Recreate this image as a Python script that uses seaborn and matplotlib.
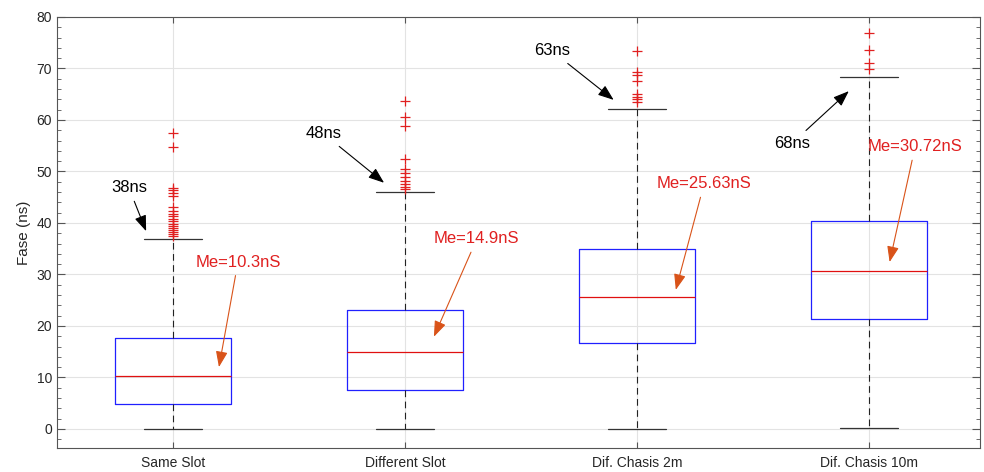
import numpy as np
import pandas as pd
import seaborn as sns
import matplotlib
matplotlib.use("Agg")
import matplotlib.pyplot as plt
from matplotlib.ticker import MultipleLocator

# Categorias y estadisticas (ns)
grupos = ["Same Slot", "Different Slot", "Dif. Chasis 2m", "Dif. Chasis 10m"]
q1 = [4.8, 7.6, 16.6, 21.3]
mediana = [10.3, 14.9, 25.63, 30.72]
q3 = [17.6, 23.1, 34.9, 40.4]
bigote_bajo = [0.0, 0.0, 0.0, 0.1]
bigote_alto = [36.8, 46.0, 62.2, 68.3]
atipicos = [
    [57.5, 54.7, 46.8, 46.3, 45.8, 45.2, 43.0, 42.4, 41.8, 41.3, 40.8,
     40.3, 39.8, 39.5, 39.0, 38.6, 38.2, 37.8, 37.5],
    [63.7, 60.6, 58.8, 52.4, 50.4, 49.7, 49.0, 48.2, 47.5, 47.0, 46.6],
    [73.4, 69.4, 68.8, 67.6, 65.0, 64.5, 64.0, 63.5],
    [76.8, 73.6, 71.1, 69.9],
]

# Textos de las anotaciones
etiquetas_max = ["38ns", "48ns", "63ns", "68ns"]
etiquetas_me = ["Me=10.3nS", "Me=14.9nS", "Me=25.63nS", "Me=30.72nS"]

# seaborn calcula las cajas a partir de datos: se arma una muestra
# que reproduce exactamente los cuartiles, bigotes y atipicos leidos
filas = []
for i, g in enumerate(grupos):
    valores = ([bigote_bajo[i]] + [q1[i]] * 100 + [mediana[i]] * 100
               + [q3[i]] * 100 + [bigote_alto[i]] + atipicos[i])
    for v in valores:
        filas.append({"grupo": g, "fase": v})
df = pd.DataFrame(filas)

sns.set_theme(style="whitegrid", rc={
    "grid.color": "#e3e3e3",
    "grid.linewidth": 0.8,
    "axes.edgecolor": "#555555",
    "axes.linewidth": 0.8,
    "xtick.direction": "in",
    "ytick.direction": "in",
})
plt.rcParams["font.family"] = ["Liberation Sans", "DejaVu Sans"]

fig = plt.figure(figsize=(9.84, 4.72), dpi=100)
ax = fig.add_axes([0.058, 0.051, 0.938, 0.913])

sns.boxplot(data=df, x="grupo", y="fase", order=grupos, ax=ax,
            fill=False, width=0.5, whis=1.5, color="blue",
            boxprops=dict(color="#2020ff", linewidth=0.9),
            medianprops=dict(color="#e01010", linewidth=0.9),
            whiskerprops=dict(color="#222222", linestyle=(0, (6, 4)), linewidth=0.8),
            capprops=dict(color="#333333", linewidth=0.9),
            flierprops=dict(marker="+", markeredgecolor="#e02020",
                            markersize=7, markeredgewidth=0.9),
            capwidths=0.25)

ax.set_xlim(-0.5, 3.48)
ax.set_ylim(-3.7, 80)
ax.yaxis.set_major_locator(MultipleLocator(10))
ax.yaxis.set_minor_locator(MultipleLocator(2))
ax.tick_params(axis="both", which="both", direction="in",
               top=True, bottom=True, left=True, right=True,
               colors="#555555", labelcolor="#262626", labelsize=10)
ax.tick_params(axis="y", which="major", length=6, width=0.8)
ax.tick_params(axis="y", which="minor", length=3, width=0.6)
ax.tick_params(axis="x", which="major", length=4, width=0.8, pad=6)
ax.grid(True, which="major", axis="both")
ax.set_xlabel("")
ax.set_ylabel("Fase (ns)", fontsize=11, color="#262626")
for s in ax.spines.values():
    s.set_visible(True)
    s.set_color("#555555")

# Anotaciones negras (maximo del bigote), x relativa a cada categoria
flecha_max_dx = [-0.116, -0.09, -0.10, -0.086]
flecha_max_y = [38.4, 47.8, 63.9, 65.6]
texto_max_dx = [-0.19, -0.35, -0.366, -0.33]
texto_max_y = [46.8, 57.3, 73.4, 55.5]
for i in range(4):
    ax.annotate(etiquetas_max[i], xy=(i + flecha_max_dx[i], flecha_max_y[i]),
                xytext=(i + texto_max_dx[i], texto_max_y[i]),
                ha="center", va="center", fontsize=12, color="black",
                arrowprops=dict(arrowstyle="-|>,head_length=0.8,head_width=0.3",
                                color="black", lw=0.8, shrinkA=2, shrinkB=0))

# Anotaciones rojas (mediana)
flecha_me_dx = [0.198, 0.125, 0.168, 0.09]
flecha_me_y = [12.0, 17.9, 27.0, 32.4]
texto_me_dx = [0.28, 0.31, 0.29, 0.20]
texto_me_y = [32.4, 36.9, 47.6, 54.8]
for i in range(4):
    ax.annotate(etiquetas_me[i], xy=(i + flecha_me_dx[i], flecha_me_y[i]),
                xytext=(i + texto_me_dx[i], texto_me_y[i]),
                ha="center", va="center", fontsize=12, color="#e02020",
                arrowprops=dict(arrowstyle="-|>,head_length=0.8,head_width=0.3",
                                color="#d95319", lw=0.8, shrinkA=2, shrinkB=0))

fig.savefig("out.png", dpi=100)
